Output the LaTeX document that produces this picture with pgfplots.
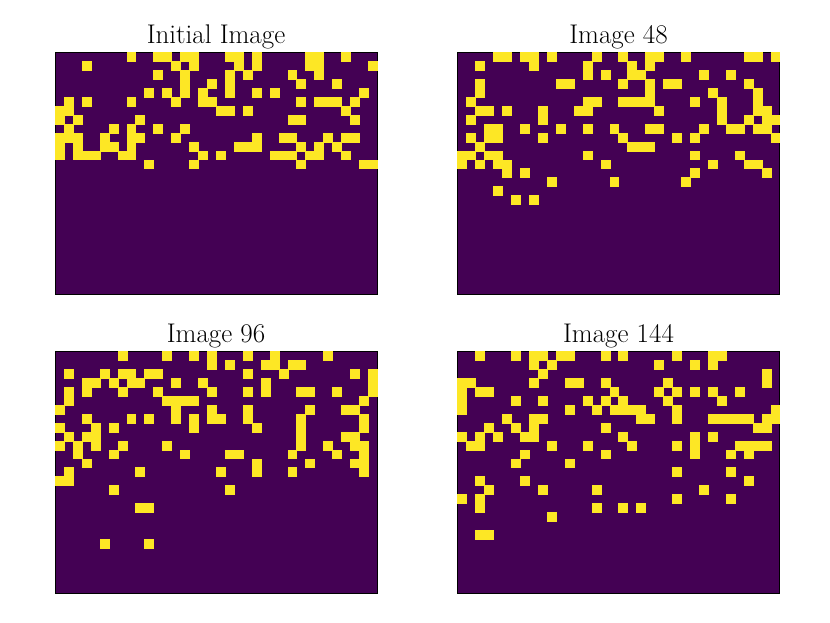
\documentclass[border=0pt]{standalone}
\usepackage{fontspec}
\usepackage{pgfplots}
\pgfplotsset{compat=1.18}
\definecolor{vlow}{HTML}{440154}
\definecolor{vhigh}{HTML}{FDE725}
\pgfplotsset{
  panel/.style={
    scale only axis, width=322pt, height=242pt, anchor=south west,
    xmin=-0.5, xmax=35.5, ymin=-0.5, ymax=26.5, y dir=reverse,
    ticks=none, axis line style={black, line width=0.9pt},
    axis background/.style={fill=vlow},
    axis on top,
    title style={font=\fontsize{27}{30}\selectfont, yshift=-6.5pt},
  },
  cells/.style={only marks, mark=square*, mark size=4.47pt,
    mark options={fill=vhigh, draw=vhigh, line width=0.1pt}},
}
\begin{document}
\begin{tikzpicture}
\path[use as bounding box] (0,0) rectangle (830pt,623pt);

\begin{axis}[panel, at={(55pt,329pt)}, title={Initial Image}]
\addplot[cells] coordinates {
(8,0) (11,0) (12,0) (14,0) (15,0) (19,0) (20,0) (22,0) (28,0) (29,0) (32,0)
(3,1) (13,1) (15,1) (20,1) (22,1) (28,1) (29,1) (35,1)
(11,2) (14,2) (19,2) (21,2) (26,2) (29,2)
(14,3) (17,3) (19,3) (27,3) (31,3)
(10,4) (12,4) (14,4) (16,4) (19,4) (22,4) (24,4) (34,4)
(1,5) (3,5) (8,5) (13,5) (16,5) (17,5) (27,5) (29,5) (30,5) (31,5) (33,5)
(0,6) (1,6) (18,6) (19,6) (21,6) (32,6)
(0,7) (2,7) (9,7) (26,7) (27,7) (33,7)
(1,8) (6,8) (8,8) (11,8) (14,8)
(0,9) (1,9) (2,9) (5,9) (8,9) (9,9) (13,9) (22,9) (25,9) (26,9) (30,9) (32,9) (33,9)
(0,10) (2,10) (5,10) (6,10) (8,10) (15,10) (20,10) (21,10) (22,10) (27,10) (29,10) (31,10)
(0,11) (2,11) (3,11) (4,11) (7,11) (8,11) (16,11) (18,11) (24,11) (25,11) (26,11) (28,11) (29,11) (32,11)
(10,12) (15,12) (27,12) (34,12) (35,12)
};
\end{axis}

\begin{axis}[panel, at={(457.5pt,329pt)}, title={Image 48}]
\addplot[cells] coordinates {
(4,0) (5,0) (7,0) (8,0) (10,0) (15,0) (18,0) (21,0) (22,0) (25,0) (32,0) (33,0) (35,0)
(2,1) (8,1) (14,1) (19,1) (21,1)
(14,2) (16,2) (19,2) (20,2) (27,2) (30,2)
(2,3) (11,3) (12,3) (18,3) (21,3) (23,3) (24,3) (32,3)
(2,4) (21,4) (28,4) (33,4)
(1,5) (14,5) (15,5) (18,5) (19,5) (20,5) (21,5) (26,5) (29,5) (33,5)
(2,6) (3,6) (5,6) (9,6) (13,6) (14,6) (22,6) (29,6) (33,6) (34,6)
(1,7) (9,7) (29,7) (32,7) (34,7) (35,7)
(3,8) (4,8) (7,8) (11,8) (14,8) (17,8) (21,8) (22,8) (27,8) (30,8) (31,8) (33,8) (34,8)
(1,9) (3,9) (4,9) (9,9) (18,9) (24,9) (26,9) (35,9)
(2,10) (19,10) (20,10) (21,10)
(0,11) (1,11) (3,11) (4,11) (14,11) (26,11) (31,11)
(0,12) (2,12) (4,12) (5,12) (16,12) (28,12) (32,12) (33,12)
(5,13) (7,13) (26,13) (34,13)
(10,14) (17,14) (25,14)
(4,15)
(6,16) (8,16)
};
\end{axis}

\begin{axis}[panel, at={(55pt,30pt)}, title={Image 96}]
\addplot[cells] coordinates {
(7,0) (12,0) (15,0) (17,0) (21,0) (24,0) (30,0)
(17,1) (19,1) (23,1) (24,1) (26,1) (27,1)
(1,2) (5,2) (7,2) (8,2) (10,2) (11,2) (21,2) (25,2) (33,2) (35,2)
(3,3) (4,3) (6,3) (8,3) (9,3) (13,3) (16,3) (23,3) (35,3)
(1,4) (3,4) (7,4) (11,4) (17,4) (21,4) (23,4) (27,4) (28,4) (31,4) (35,4)
(1,5) (12,5) (13,5) (14,5) (15,5) (34,5)
(0,6) (13,6) (17,6) (21,6) (28,6) (32,6) (33,6)
(3,7) (8,7) (10,7) (13,7) (15,7) (17,7) (18,7) (21,7) (27,7) (34,7)
(0,8) (4,8) (6,8) (15,8) (22,8) (27,8) (34,8)
(1,9) (3,9) (4,9) (27,9) (32,9) (33,9)
(0,10) (2,10) (4,10) (7,10) (12,10) (27,10) (30,10) (33,10) (34,10)
(2,11) (6,11) (14,11) (19,11) (20,11) (26,11) (31,11) (34,11)
(3,12) (22,12) (28,12) (33,12) (34,12)
(1,13) (9,13) (18,13) (22,13) (26,13) (34,13)
(0,14) (1,14)
(6,15) (19,15)
(9,17) (10,17)
(5,21) (10,21)
};
\end{axis}

\begin{axis}[panel, at={(457.5pt,30pt)}, title={Image 144}]
\addplot[cells] coordinates {
(2,0) (6,0) (8,0) (9,0) (11,0) (12,0) (16,0) (18,0) (24,0) (28,0) (29,0)
(8,1) (10,1) (22,1) (26,1) (28,1)
(9,2) (34,2)
(0,3) (1,3) (8,3) (12,3) (13,3) (16,3) (23,3) (34,3)
(0,4) (2,4) (3,4) (17,4) (22,4) (24,4) (26,4) (28,4) (31,4)
(0,5) (6,5) (9,5) (14,5) (16,5) (18,5) (23,5) (29,5)
(0,6) (12,6) (15,6) (17,6) (18,6) (19,6) (20,6) (24,6) (35,6)
(5,7) (8,7) (9,7) (20,7) (21,7) (24,7) (28,7) (29,7) (30,7) (31,7) (32,7) (34,7) (35,7)
(3,8) (6,8) (8,8) (16,8) (33,8) (34,8)
(0,9) (2,9) (4,9) (7,9) (8,9) (18,9) (26,9) (28,9)
(1,10) (2,10) (10,10) (14,10) (19,10) (24,10) (26,10) (31,10) (32,10) (33,10) (34,10)
(7,11) (16,11) (26,11) (30,11) (32,11)
(6,12) (12,12)
(24,13) (30,13)
(2,14) (7,14) (32,14)
(3,15) (9,15) (15,15) (27,15)
(0,16) (2,16) (24,16) (30,16)
(2,17) (15,17) (18,17) (20,17)
(10,18)
(2,20) (3,20)
};
\end{axis}
\end{tikzpicture}
\end{document}
